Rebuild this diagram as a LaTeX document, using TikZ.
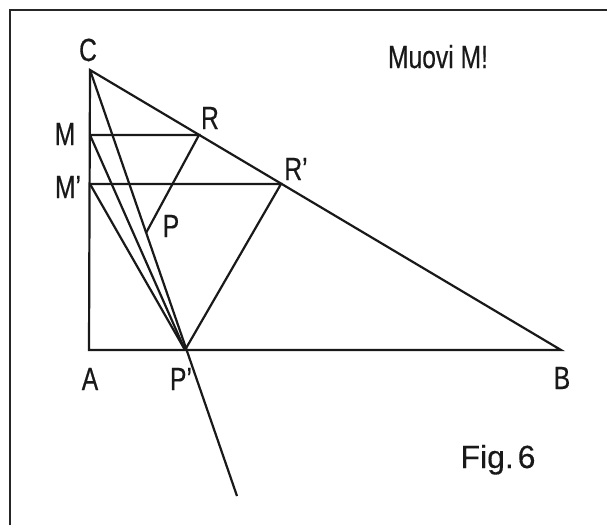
\documentclass[tikz,border=0pt]{standalone}
\usepackage{fontspec}
\setmainfont[FakeStretch=0.77,FakeBold=0.4]{Liberation Sans}
\newfontfamily\figfont[FakeBold=0.3]{Liberation Sans}
\begin{document}
\begin{tikzpicture}[x=1pt,y=-1pt,
  seg/.style={line width=2.2pt,line join=miter,black!90},
  lbl/.style={inner sep=0pt,anchor=base,font=\fontsize{32}{32}\selectfont,text=black!90}]
\useasboundingbox (0,0) rectangle (607,525);
\draw[line width=1.6pt,black!85] (10,525) -- (10,10) -- (607,10);
\coordinate (C) at (90,70);
\coordinate (A) at (89,350);
\coordinate (B) at (561,350);
\coordinate (M) at (90,135);
\coordinate (R) at (199,135);
\coordinate (Mp) at (90,184);
\coordinate (Rp) at (281,184);
\coordinate (P) at (146,233);
\coordinate (Pp) at (185,350);
\coordinate (E) at (237,496);
% triangle
\draw[seg] (C) -- (A) -- (B) -- cycle;
% constructions
\draw[seg] (M) -- (R) -- (P);
\draw[seg] (Mp) -- (Rp) -- (Pp);
\draw[seg] (M) -- (Pp);
\draw[seg] (Mp) -- (Pp);
\draw[seg] (C) -- (E);
% labels
\node[lbl] (lC) at (88,61) {C};
\node[lbl] (lM) at (65,145) {M};
\node[lbl] (lR) at (210,129) {R};
\node[lbl] (lMp) at (68,198) {M’};
\node[lbl] (lRp) at (296,180) {R’};
\node[lbl] (lP) at (171,237) {P};
\node[lbl] (lA) at (90,390) {A};
\node[lbl] (lPp) at (181,390) {P’};
\node[lbl] (lB) at (562,389) {B};
\node[lbl] (title) at (438,68) {Muovi M!};
\node[inner sep=0pt,anchor=base,font=\figfont\fontsize{32}{32}\selectfont,text=black!90] (fig) at (498,468) {Fig.\hspace{0.12em}6};
\end{tikzpicture}
\end{document}
